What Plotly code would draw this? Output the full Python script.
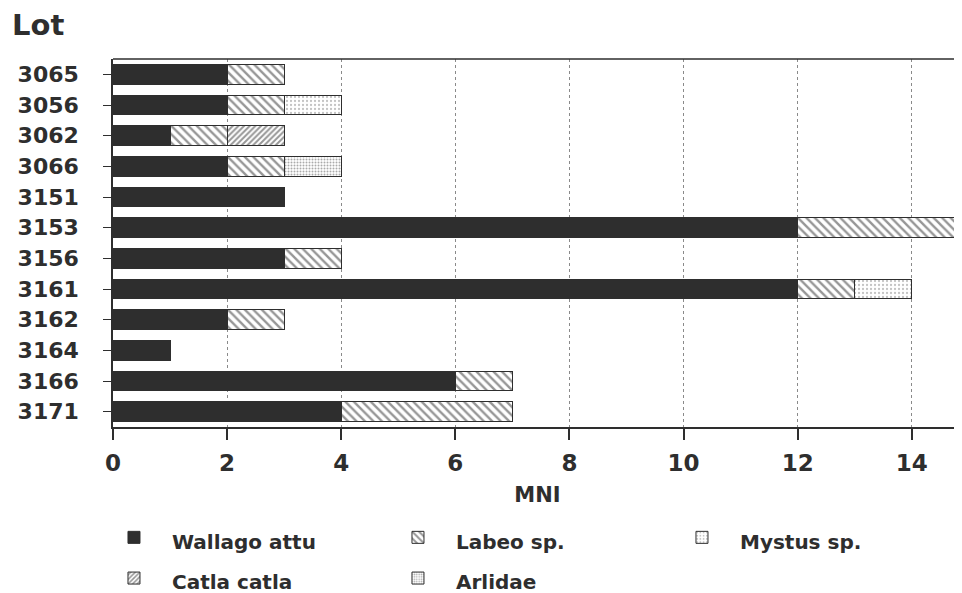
import plotly.graph_objects as go

lots = ["3065", "3056", "3062", "3066", "3151", "3153", "3156", "3161", "3162", "3164", "3166", "3171"]
wallago = [2, 2, 1, 2, 3, 12, 3, 12, 2, 1, 6, 4]
labeo   = [1, 1, 1, 1, 0, 3, 1, 1, 1, 0, 1, 3]
catla   = [0, 0, 1, 0, 0, 0, 0, 0, 0, 0, 0, 0]
mystus  = [0, 1, 0, 0, 0, 0, 0, 1, 0, 0, 0, 0]
arlidae = [0, 0, 0, 1, 0, 0, 0, 0, 0, 0, 0, 0]
x_ticks = [0, 2, 4, 6, 8, 10, 12, 14]

ink = "#2e2e2e"
FAM = "DejaVu Sans, Arial, sans-serif"
font = dict(family=FAM, size=22, color=ink, weight="bold")

# the page body has an 8px default margin, so the figure is 8px smaller
W, H = 954, 585
L, T, B = 105, 51, 166
plot_h = H - T - B
plot_w = W - L

fig = go.Figure()

def add(name, vals, color, pattern=None, rank=1):
    m = dict(color=color, line=dict(color=ink, width=1))
    if pattern:
        m["pattern"] = pattern
    fig.add_trace(go.Bar(
        y=lots, x=[v if v else None for v in vals],
        name="<span style='font-size:20px'>" + name + "</span>",
        orientation="h", marker=m, legendrank=rank,
    ))

add("Wallago attu", wallago, ink, rank=1)
add("Labeo sp.", labeo, "white", dict(shape="\\", fgcolor=ink, bgcolor="white", size=6, solidity=0.4), rank=2)
add("Catla catla", catla, "white", dict(shape="/", fgcolor=ink, bgcolor="white", size=4, solidity=0.5), rank=4)
add("Mystus sp.", mystus, "white", dict(shape=".", fgcolor="#888", bgcolor="white", size=4, solidity=0.25), rank=3)
add("Arlidae", arlidae, "white", dict(shape=".", fgcolor="#555", bgcolor="white", size=3, solidity=0.35), rank=5)

fig.update_layout(
    width=W, height=H,
    margin=dict(l=L, r=0, t=T, b=B, autoexpand=False),
    barmode="stack",
    bargap=0.35,
    plot_bgcolor="white",
    paper_bgcolor="white",
    font=font,
    showlegend=True,
    legend=dict(
        orientation="h", x=-0.0283 + 7 / plot_w, xanchor="left",
        y=-(504 - (H - B)) / plot_h, yanchor="top",
        entrywidth=203, entrywidthmode="pixels",
        font=dict(family=FAM, size=29, color=ink, weight="bold"),
        traceorder="normal", itemwidth=66, tracegroupgap=0,
        bgcolor="rgba(0,0,0,0)",
    ),
    xaxis=dict(
        range=[0, 14.88], tickvals=x_ticks, ticktext=[str(v) for v in x_ticks],
        showgrid=True, gridcolor="#8a8a8a", griddash="dot", gridwidth=1,
        showline=True, linecolor=ink, linewidth=1.5, mirror=False,
        ticks="outside", ticklen=11, tickcolor=ink, tickwidth=1.5,
        ticklabelstandoff=4,
        zeroline=False, automargin=False,
        title=dict(text="MNI", font=dict(size=21, weight="bold"), standoff=12),
        tickfont=dict(size=23),
    ),
    yaxis=dict(
        categoryorder="array", categoryarray=lots[::-1],
        showline=True, linecolor=ink, linewidth=1.5,
        ticks="outside", ticklen=8, tickcolor=ink, tickwidth=1,
        ticklabelstandoff=20, automargin=False,
        tickfont=dict(size=22), showgrid=False,
    ),
    annotations=[dict(text="Lot", x=0.0, y=1.0, xref="paper", yref="paper",
                      xanchor="left", yanchor="middle", showarrow=False,
                      font=dict(size=29, weight="bold", color=ink),
                      xshift=-103, yshift=34)],
    shapes=[dict(type="line", xref="paper", yref="paper", x0=0, x1=1, y0=1, y1=1,
                 line=dict(color=ink, width=1.5))],
)

fig.write_html("out.html")
